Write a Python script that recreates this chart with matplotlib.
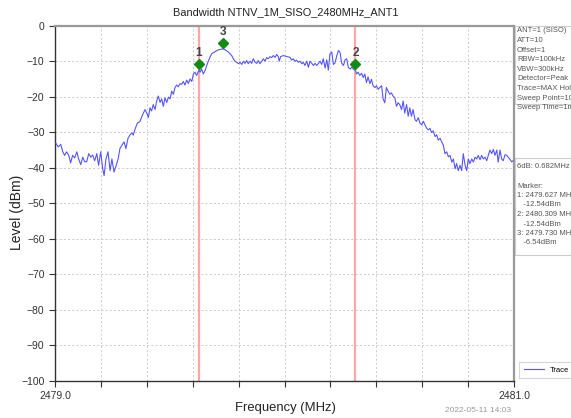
import matplotlib
matplotlib.use("Agg")
import matplotlib.pyplot as plt
from matplotlib.transforms import offset_copy

plt.rcParams['font.family'] = ['Liberation Sans', 'DejaVu Sans']

title = "Bandwidth NTNV_1M_SISO_2480MHz_ANT1"
x_label = "Frequency (MHz)"
y_label = "Level (dBm)"
timestamp = "2022-05-11 14:03"

freq = [
    2479.004, 2479.014, 2479.025, 2479.034, 2479.042, 2479.051, 2479.060, 2479.068, 2479.077, 2479.086,
    2479.095, 2479.103, 2479.112, 2479.121, 2479.129, 2479.138, 2479.147, 2479.156, 2479.164, 2479.173,
    2479.182, 2479.190, 2479.199, 2479.208, 2479.214, 2479.222, 2479.231, 2479.240, 2479.248, 2479.257,
    2479.266, 2479.275, 2479.283, 2479.292, 2479.301, 2479.309, 2479.318, 2479.327, 2479.336, 2479.341,
    2479.350, 2479.359, 2479.370, 2479.379,
    2479.392, 2479.400, 2479.407, 2479.414, 2479.421, 2479.428, 2479.436, 2479.443, 2479.450, 2479.458,
    2479.465, 2479.472, 2479.479, 2479.487, 2479.494, 2479.501, 2479.509, 2479.516, 2479.523, 2479.530,
    2479.537, 2479.545, 2479.552, 2479.559, 2479.566, 2479.574, 2479.581, 2479.588, 2479.596, 2479.603,
    2479.610, 2479.617, 2479.627, 2479.632, 2479.639, 2479.646, 2479.654, 2479.661, 2479.668, 2479.675,
    2479.683, 2479.697, 2479.712, 2479.730, 2479.739, 2479.755, 2479.770, 2479.777, 2479.784, 2479.792,
    2479.799, 2479.806, 2479.814, 2479.821, 2479.828, 2479.835, 2479.842, 2479.850, 2479.857, 2479.864,
    2479.872, 2479.879, 2479.886, 2479.893, 2479.901, 2479.908, 2479.915, 2479.922, 2479.929, 2479.937,
    2479.944, 2479.951, 2479.959, 2479.966, 2479.973, 2479.977, 2479.983, 2479.995, 2480.010, 2480.024,
    2480.031, 2480.038, 2480.046, 2480.053, 2480.060, 2480.068, 2480.075, 2480.082, 2480.089, 2480.097,
    2480.104, 2480.111, 2480.119, 2480.126, 2480.133, 2480.140, 2480.147, 2480.155, 2480.162, 2480.169,
    2480.177, 2480.184, 2480.191, 2480.198, 2480.206, 2480.213, 2480.220, 2480.228, 2480.235, 2480.242,
    2480.249, 2480.257, 2480.264, 2480.271, 2480.278, 2480.286, 2480.293, 2480.300, 2480.309,
    2480.314, 2480.321, 2480.328, 2480.336, 2480.343, 2480.350, 2480.357, 2480.364, 2480.372, 2480.379,
    2480.386, 2480.394, 2480.401, 2480.408, 2480.415, 2480.423, 2480.430, 2480.437, 2480.444, 2480.451,
    2480.459, 2480.466, 2480.473, 2480.481, 2480.488, 2480.495, 2480.502, 2480.510, 2480.517, 2480.524,
    2480.532, 2480.539, 2480.546, 2480.553, 2480.560, 2480.569, 2480.575, 2480.583, 2480.590, 2480.598,
    2480.605, 2480.612, 2480.620, 2480.627, 2480.634, 2480.641, 2480.648, 2480.656, 2480.663, 2480.670,
    2480.678, 2480.685, 2480.692, 2480.699, 2480.707, 2480.714, 2480.721, 2480.729, 2480.736, 2480.743,
    2480.750, 2480.757, 2480.765, 2480.772, 2480.779, 2480.787, 2480.794, 2480.801, 2480.808, 2480.816,
    2480.823, 2480.830, 2480.838, 2480.844, 2480.852, 2480.859, 2480.866, 2480.874, 2480.881, 2480.888,
    2480.895, 2480.903, 2480.910, 2480.917, 2480.925, 2480.931, 2480.939, 2480.946, 2480.953, 2480.961,
    2480.968, 2480.975, 2480.983, 2480.990, 2480.996,
]
level = [
    -33.1, -34.1, -33.4, -35.5, -36.5, -35.5, -36.5, -38.6, -36.5, -37.2,
    -35.5, -37.5, -39.1, -37.0, -38.3, -38.3, -36.0, -37.0, -36.4, -38.0,
    -36.0, -39.3, -35.5, -40.3, -42.2, -37.5, -35.5, -40.8, -37.5, -41.2,
    -39.5, -37.5, -34.6, -33.6, -32.7, -34.6, -31.7, -30.7, -30.2, -30.8,
    -28.9, -27.4, -27.0, -25.5,
    -23.6, -24.6, -25.8, -23.1, -24.0, -22.2, -23.6, -21.2, -19.8, -21.6,
    -20.6, -22.7, -20.3, -21.6, -20.1, -20.6, -18.4, -19.3, -17.4, -16.7,
    -17.2, -16.3, -16.5, -15.7, -16.7, -15.3, -16.3, -15.0, -15.7, -13.6,
    -13.1, -14.0, -12.54, -13.1, -12.2, -13.6, -12.6, -11.2, -10.0, -8.9,
    -7.9, -7.3, -6.8, -6.54, -6.7, -7.4, -8.4, -9.3, -10.0, -10.3,
    -10.7, -10.3, -10.9, -10.0, -10.6, -9.8, -10.7, -10.0, -10.6, -9.3,
    -10.3, -10.6, -9.8, -10.7, -10.0, -9.3, -10.0, -9.0, -9.3, -8.7,
    -9.0, -8.4, -8.9, -8.1, -8.7, -10.0, -8.7, -8.4, -8.7, -8.9,
    -9.7, -9.3, -10.0, -9.7, -10.3, -10.0, -10.7, -10.3, -11.2, -10.0,
    -11.7, -10.0, -10.6, -11.2, -10.6, -11.2, -10.7, -10.0, -10.9, -9.3,
    -11.9, -9.6, -12.5, -8.0, -7.4, -10.9, -10.5, -8.4, -7.0, -7.5,
    -10.5, -11.2, -9.6, -9.3, -11.7, -12.2, -11.7, -12.2, -12.54,
    -13.6, -13.1, -14.0, -13.4, -14.6, -13.6, -16.0, -14.4, -16.3, -15.1,
    -16.9, -17.4, -16.9, -17.9, -17.4, -16.9, -20.7, -21.7, -17.4, -18.4,
    -19.3, -18.9, -19.8, -20.3, -22.7, -21.7, -22.2, -23.6, -21.2, -24.6,
    -22.2, -25.5, -23.1, -25.5, -23.6, -26.5, -26.9, -25.9, -27.4, -27.9,
    -26.9, -27.9, -28.9, -29.3, -28.9, -30.1, -29.6, -31.2, -30.7, -32.2,
    -31.7, -32.7, -33.6, -36.0, -35.5, -36.9, -36.5, -38.4, -37.5, -40.3,
    -38.8, -40.8, -39.3, -40.8, -36.0, -39.3, -40.8, -37.5, -38.8, -37.5,
    -38.4, -37.0, -37.5, -36.5, -37.7, -36.5, -37.5, -37.0, -38.0, -36.5,
    -35.0, -36.0, -34.8, -36.5, -35.0, -38.4, -35.0, -37.5, -38.0, -36.3,
    -36.5, -37.0, -37.7, -38.3, -38.0,
]

marker_ids = ["1", "2", "3"]
marker_freq = [2479.627, 2480.309, 2479.730]
marker_level = [-12.54, -12.54, -6.54]
bw_lines = [2479.627, 2480.309]

x_ticks = [2479.0, 2479.2, 2479.4, 2479.6, 2479.8, 2480.0, 2480.2, 2480.4, 2480.6, 2480.8, 2481.0]
x_ticklabels = ["2479.0", "", "", "", "", "", "", "", "", "", "2481.0"]
y_ticks = [0, -10, -20, -30, -40, -50, -60, -70, -80, -90, -100]

info_lines = ["ANT=1 (SISO)", "ATT=10", "Offset=1", "RBW=100kHz", "VBW=300kHz",
              "Detector=Peak", "Trace=MAX Hold", "Sweep Point=1001", "Sweep Time=1ms"]
marker_lines = ["6dB: 0.682MHz", "", "Marker:", "1: 2479.627 MHz", "   -12.54dBm",
                "2: 2480.309 MHz", "   -12.54dBm", "3: 2479.730 MHz", "   -6.54dBm"]

W, H = 571, 418
fig = plt.figure(figsize=(W / 100, H / 100), dpi=100)
ax = fig.add_axes([55 / W, 1 - 381 / H, (514 - 55) / W, (381 - 25.7) / H])

ax.set_xlim(2479.0, 2481.0)
ax.set_ylim(-100, 0)
ax.set_xticks(x_ticks)
ax.set_xticklabels(x_ticklabels)
ax.set_yticks(y_ticks)
ax.tick_params(axis='both', labelsize=7.5, colors='#333333', length=4, width=0.8, direction='out')
ax.grid(True, color='#c4c4c4', linestyle=(0, (2.5, 2.5)), linewidth=0.6)

for v in bw_lines:
    ax.axvline(v, color='#ffa6a6', linewidth=1.6, zorder=2)

ax.plot(freq, level, color='#5555ff', linewidth=0.8, label='Trace', zorder=3)

mk_tr = offset_copy(ax.transData, fig=fig, x=0, y=4.3, units='points')
lb_tr = offset_copy(ax.transData, fig=fig, x=0, y=12.5, units='points')
for mid, mf, ml in zip(marker_ids, marker_freq, marker_level):
    ax.plot([mf], [ml], marker='D', markersize=5, color='#138a13', transform=mk_tr, zorder=5)
    ax.text(mf, ml, mid, transform=lb_tr, ha='center', va='center', fontsize=8.5,
            fontweight='bold', color='#444444', zorder=5)

for s in ['left', 'bottom']:
    ax.spines[s].set_color('#333333')
    ax.spines[s].set_linewidth(1.0)
for s in ['top', 'right']:
    ax.spines[s].set_color('#999999')
    ax.spines[s].set_linewidth(1.6)

fig.text(286 / W, 1 - 12 / H, title, ha='center', va='center', fontsize=7.9, color='#222222')
fig.text(17 / W, 1 - 212 / H, y_label, ha='center', va='center', rotation=90, fontsize=10, color='#222222')
fig.text(285 / W, 1 - 408 / H, x_label, ha='center', va='center', fontsize=9.4, color='#222222')
fig.text(478 / W, 1 - 410 / H, timestamp, ha='center', va='center', fontsize=6, color='#999999')

# info boxes (text runs past the right edge, as in the reference)
box1 = plt.Rectangle((515 / W, 1 - 104 / H), 60 / W, 78 / H, transform=fig.transFigure,
                     facecolor='white', edgecolor='#cccccc', linewidth=0.8)
fig.add_artist(box1)
for i, t in enumerate(info_lines):
    fig.text(517 / W, 1 - (31 + i * 9.6) / H, t, ha='left', va='center', fontsize=5.5, color='#555555')

box2 = plt.Rectangle((515 / W, 1 - 255 / H), 60 / W, 97 / H, transform=fig.transFigure,
                     facecolor='white', edgecolor='#cccccc', linewidth=0.8)
fig.add_artist(box2)
for i, t in enumerate(marker_lines):
    fig.text(517 / W, 1 - (167 + i * 9.5) / H, t, ha='left', va='center', fontsize=5.5, color='#555555')

leg = ax.legend(loc='lower left', bbox_to_anchor=(1.003, -0.003), fontsize=5.5, frameon=True,
                handlelength=2.6, borderpad=0.6, fancybox=False, edgecolor='#cccccc')
leg.get_frame().set_linewidth(0.8)

fig.savefig("out.png", dpi=100)
